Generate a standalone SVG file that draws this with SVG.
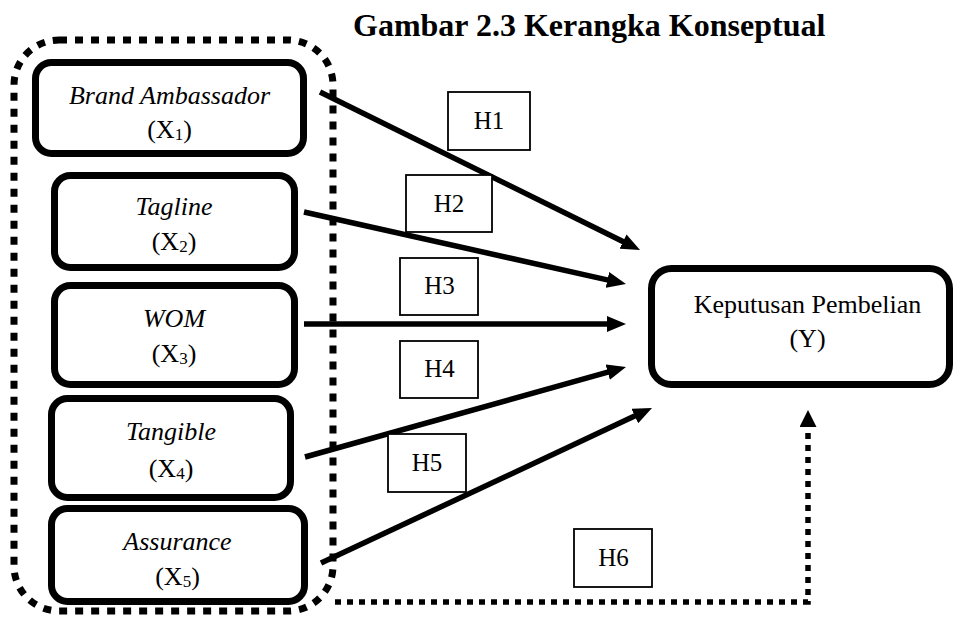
<svg xmlns="http://www.w3.org/2000/svg" width="955" height="617" viewBox="0 0 955 617">
<style>
.node{fill:#fff;stroke:#000;stroke-width:7}
.t{font-family:"Liberation Serif","Times New Roman",serif;font-size:26px;fill:#000;text-anchor:middle}
.i{font-style:italic}
.sub{font-size:17px}
.hb{fill:#fff;stroke:#000;stroke-width:1.8}
.ht{font-family:"Liberation Serif","Times New Roman",serif;font-size:25px;fill:#000;text-anchor:middle}
.arr{fill:none;stroke:#000;stroke-width:5.5;marker-end:url(#ah)}
.dot{fill:none;stroke:#000;stroke-width:7;stroke-dasharray:8 8}
.dot2{fill:none;stroke:#000;stroke-width:5.5;stroke-dasharray:6 6;marker-end:url(#ah2)}
</style>
<defs>
<marker id="ah" markerUnits="userSpaceOnUse" markerWidth="20" markerHeight="16" refX="1" refY="8" orient="auto">
<path d="M0,0 L19,8 L0,16 z" fill="#000"/>
</marker>
<marker id="ah2" markerUnits="userSpaceOnUse" markerWidth="18" markerHeight="18" refX="1" refY="8.5" orient="auto">
<path d="M0,0 L17,8.5 L0,17 z" fill="#000"/>
</marker>
</defs>
<rect width="955" height="617" fill="#fff"/>
<text x="353" y="36" style="font-family:'Liberation Serif','Times New Roman',serif;font-size:32px;font-weight:bold" fill="#000">Gambar 2.3 Kerangka Konseptual</text>

<g id="group-x">
<rect class="dot" x="14" y="40" width="319" height="571" rx="45" ry="45"/>
</g>

<g id="connectors">
<path class="arr" d="M320,92 L623.9,242"/>
<path class="arr" d="M304,212 L608.4,280.1"/>
<path class="arr" d="M304,324 L608,324"/>
<path class="arr" d="M305,457 L608.7,371.9"/>
<path class="arr" d="M321,563 L635.7,415.6"/>
<path class="dot2" d="M335,602 H808 V426"/>
</g>

<g id="x1">
<rect class="node" x="35.5" y="62.5" width="268" height="91" rx="16"/>
<text class="t i" x="169.5" y="104">Brand Ambassador</text>
<text class="t" x="169.5" y="138">(X<tspan class="sub" dy="2">1</tspan><tspan dy="-2">)</tspan></text>
</g>
<g id="x2">
<rect class="node" x="54.5" y="175.5" width="240" height="92" rx="16"/>
<text class="t i" x="174" y="215">Tagline</text>
<text class="t" x="174" y="250">(X<tspan class="sub" dy="2">2</tspan><tspan dy="-2">)</tspan></text>
</g>
<g id="x3">
<rect class="node" x="54.5" y="285.5" width="240" height="99" rx="16"/>
<text class="t i" x="174" y="327">WOM</text>
<text class="t" x="174" y="362">(X<tspan class="sub" dy="2">3</tspan><tspan dy="-2">)</tspan></text>
</g>
<g id="x4">
<rect class="node" x="51.5" y="398.5" width="239" height="99" rx="16"/>
<text class="t i" x="171" y="440">Tangible</text>
<text class="t" x="171" y="477">(X<tspan class="sub" dy="2">4</tspan><tspan dy="-2">)</tspan></text>
</g>
<g id="x5">
<rect class="node" x="51.5" y="508.5" width="253" height="93" rx="16"/>
<text class="t i" x="177.5" y="550">Assurance</text>
<text class="t" x="177.5" y="585">(X<tspan class="sub" dy="2">5</tspan><tspan dy="-2">)</tspan></text>
</g>
<g id="y">
<rect class="node" x="651.5" y="268.5" width="298" height="116" rx="20"/>
<text class="t" x="807.5" y="313">Keputusan Pembelian</text>
<text class="t" x="807.5" y="347">(Y)</text>
</g>

<g id="h1"><rect class="hb" x="448" y="92" width="82" height="58"/><text class="ht" x="489" y="129">H1</text></g>
<g id="h2"><rect class="hb" x="406" y="175" width="86" height="57"/><text class="ht" x="449" y="212">H2</text></g>
<g id="h3"><rect class="hb" x="400" y="258" width="78" height="57"/><text class="ht" x="439.5" y="294">H3</text></g>
<g id="h4"><rect class="hb" x="400" y="341" width="78" height="57"/><text class="ht" x="439.5" y="377">H4</text></g>
<g id="h5"><rect class="hb" x="388" y="434" width="78" height="58"/><text class="ht" x="427" y="471">H5</text></g>
<g id="h6"><rect class="hb" x="574" y="529" width="78" height="58"/><text class="ht" x="613.5" y="566">H6</text></g>
</svg>
